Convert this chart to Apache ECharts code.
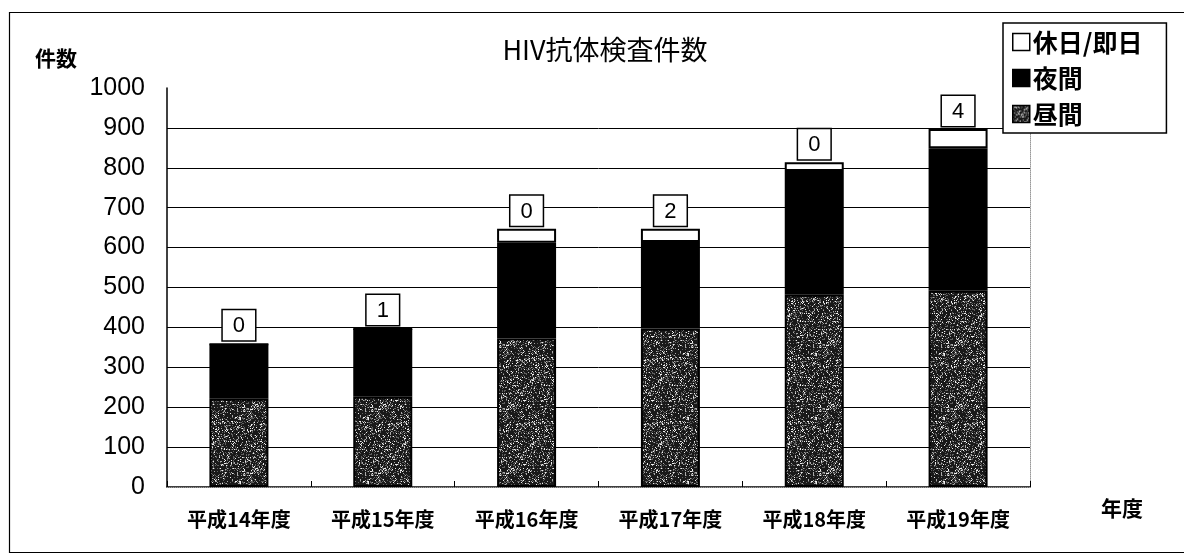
<!DOCTYPE html>
<html>
<head>
<meta charset="utf-8">
<script src="https://cdn.jsdelivr.net/npm/echarts@6/dist/echarts.min.js"></script>
<style>
html,body{margin:0;padding:0;background:#fff;}
#chart{width:1184px;height:554px;}
</style>
</head>
<body>
<div id="chart"></div>
<script>
// ---- data ----
const categories = ['平成14年度','平成15年度','平成16年度','平成17年度','平成18年度','平成19年度'];
const daytime   = [221, 226, 372, 397, 482, 492];   // 昼間
const nighttime = [137, 170, 240, 217, 310, 357];   // 夜間
const holiday   = [0, 0, 35, 33, 22, 48];           // 休日/即日
const boxLabels = [0, 1, 0, 2, 0, 4];               // boxed labels above bars
const yTicks = {min: 0, max: 1000, interval: 100};

// stipple texture for 昼間 (deterministic)
function makeStipple() {
  const c = document.createElement('canvas');
  c.width = 64; c.height = 64;
  const ctx = c.getContext('2d');
  const img = ctx.createImageData(64, 64);
  let s = 987654;
  for (let i = 0; i < 64 * 64; i++) {
    s = (s * 1103515245 + 12345) & 0x7fffffff;
    const r = (s >> 8) % 100;
    let v = r < 70 ? 25 : (r < 86 ? 95 : (r < 94 ? 170 : 240));
    img.data[i*4] = v; img.data[i*4+1] = v; img.data[i*4+2] = v; img.data[i*4+3] = 255;
  }
  ctx.putImageData(img, 0, 0);
  return c;
}
const stipple = makeStipple();

const chart = echarts.init(document.getElementById('chart'));
const FONT_CJK = '"Noto Sans CJK JP", "Noto Sans", sans-serif';
const FONT_NUM = '"Liberation Sans", Arial, sans-serif';

const splitColors = [];
for (let v = yTicks.min; v <= yTicks.max; v += yTicks.interval) splitColors.push(v === yTicks.max ? 'transparent' : '#000');

chart.setOption({
  backgroundColor: '#fff',
  animation: false,
  title: {
    text: 'HIV抗体検査件数',
    left: 600, top: 31, textAlign: 'center',
    textStyle: {fontFamily: FONT_CJK, fontSize: 27, fontWeight: 'normal', color: '#000'}
  },
  legend: {
    data: ['休日/即日', '夜間', '昼間'],
    orient: 'vertical',
    icon: 'rect',
    left: 1003, top: 23,
    padding: [5, 24, 5, 9],
    itemWidth: 17, itemHeight: 17, itemGap: 8,
    backgroundColor: '#fff',
    borderColor: '#000', borderWidth: 1.5,
    itemStyle: {borderColor: '#000', borderWidth: 1.5},
    textStyle: {fontFamily: FONT_CJK, fontSize: 25, fontWeight: 'bold', color: '#000', lineHeight: 28, padding: [0, 0, 0, -2]}
  },
  grid: {left: 167, right: 154, top: 88, bottom: 67},
  xAxis: [{
    type: 'category',
    data: categories,
    axisLine: {show: true, lineStyle: {color: '#000', width: 1.5}},
    axisTick: {show: true, inside: true, length: 6, lineStyle: {color: '#000'}},
    axisLabel: {margin: 22, fontFamily: FONT_CJK, fontSize: 20, fontWeight: 'bold', color: '#000'},
    splitLine: {show: false}
  }, {
    type: 'category',
    data: categories,
    position: 'top',
    axisLine: {show: true, lineStyle: {color: '#999', type: 'dotted', width: 1}},
    axisTick: {show: false},
    axisLabel: {show: false}
  }],
  yAxis: [{
    type: 'value',
    min: yTicks.min, max: yTicks.max, interval: yTicks.interval,
    axisLine: {show: true, lineStyle: {color: '#000', width: 1.5}},
    axisTick: {show: false},
    axisLabel: {margin: 22, fontFamily: FONT_NUM, fontSize: 25, color: '#000', formatter: v => String(v)},
    splitLine: {show: true, lineStyle: {color: splitColors, width: 1}}
  }, {
    type: 'value',
    position: 'right',
    min: yTicks.min, max: yTicks.max, interval: yTicks.interval,
    axisLine: {show: true, lineStyle: {color: '#999', type: 'dotted', width: 1}},
    axisTick: {show: false},
    axisLabel: {show: false},
    splitLine: {show: false}
  }],
  series: [{
    name: '昼間', type: 'bar', stack: 'total', barWidth: 59,
    data: daytime,
    itemStyle: {color: {image: stipple, repeat: 'repeat'}, borderColor: '#000', borderWidth: 2}
  }, {
    name: '夜間', type: 'bar', stack: 'total', barWidth: 59,
    data: nighttime,
    itemStyle: {color: '#000', borderColor: '#000', borderWidth: 2}
  }, {
    name: '休日/即日', type: 'bar', stack: 'total', barWidth: 59,
    data: holiday,
    itemStyle: {color: '#fff', borderColor: '#000', borderWidth: 2},
    label: {
      show: true, position: 'top', distance: 3,
      formatter: p => String(boxLabels[p.dataIndex]),
      fontFamily: FONT_NUM, fontSize: 22, color: '#000',
      backgroundColor: '#fff', borderColor: '#000', borderWidth: 1.5,
      padding: [5, 10, 3, 10]
    }
  }],
  graphic: [
    {type: 'rect', left: 7, top: 10, shape: {width: 1200, height: 540}, style: {fill: 'none', stroke: '#000', lineWidth: 1.2}, z: -10},
    {type: 'text', left: 35, top: 48, style: {text: '件数', font: 'bold 21px ' + FONT_CJK, fill: '#000'}},
    {type: 'text', left: 1101, top: 498, style: {text: '年度', font: 'bold 21px ' + FONT_CJK, fill: '#000'}}
  ]
});
</script>
</body>
</html>
